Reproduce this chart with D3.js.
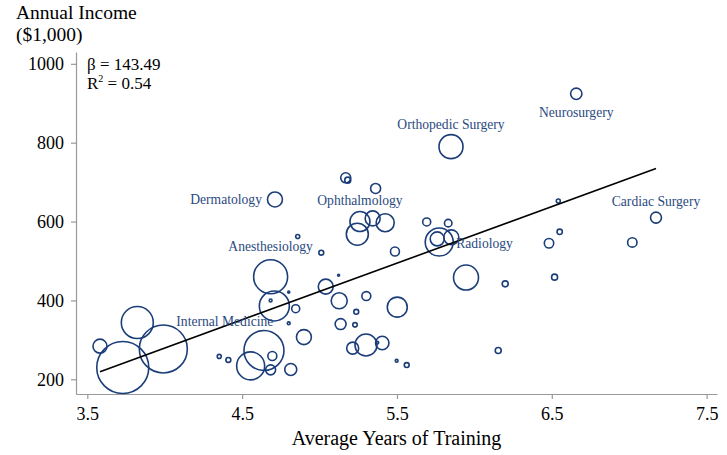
<!DOCTYPE html>
<html>
<head>
<meta charset="utf-8">
<script src="https://cdn.jsdelivr.net/npm/d3@7"></script>
<style>
  body { margin: 0; background: #fff; }
  svg text { font-family: "Liberation Serif", "Times New Roman", serif; }
</style>
</head>
<body>
<div id="chart"></div>
<script>
// one entry per specialty group
const years = [3.582, 3.729, 3.823, 3.991, 4.352, 4.411, 4.641, 4.555, 4.684, 4.708,
  4.695, 4.684, 4.684, 4.801, 4.801, 4.846, 4.899, 4.814, 5.040, 5.123,
  5.169, 5.182, 5.362, 4.712, 5.261, 5.343, 5.424, 5.244, 5.692, 5.831,
  5.773, 5.760, 5.851, 4.859, 5.011, 5.487, 5.946, 6.199, 5.127, 5.302,
  5.502, 5.237, 5.229, 5.136, 5.300, 5.214, 5.405, 5.373, 5.498, 5.563,
  6.154, 6.658, 6.542, 7.173, 6.551, 6.482, 7.020, 6.518, 5.849];
const income = [284, 230, 344, 277, 258, 249, 273, 234, 460, 386,
  259, 224, 400, 421, 342, 379, 307, 225, 435, 464,
  711, 705, 684, 656, 600, 608, 597, 568, 599, 596,
  548, 556, 560, 562, 521, 524, 458, 442, 399, 411,
  383, 371, 338, 340, 287, 279, 292, 293, 247, 236,
  273, 924, 652, 610, 574, 545, 547, 459, 790];
// physicians, thousands (bubble area)
const physicians = [4.9, 67.6, 25.6, 57.6, 0.4, 0.6, 40, 19.6, 28.9, 22.5,
  2.0, 2.5, 0.2, 0.1, 0.2, 1.6, 5.6, 3.6, 5.6, 0.1,
  2.5, 0.9, 2.5, 5.6, 10, 5.6, 8.1, 12.1, 1.6, 1.4,
  19.6, 4.9, 5.6, 0.4, 0.6, 2.0, 15.6, 0.9, 6.4, 2.0,
  10, 0.6, 0.5, 3.0, 12.1, 3.6, 4.5, 0.2, 0.2, 0.6,
  0.9, 3.2, 0.4, 3.0, 0.7, 2.2, 2.2, 0.9, 14.4];
const names = ["", "", "", "Internal Medicine", "", "", "", "", "Anesthesiology", "",
  "", "", "", "", "", "", "", "", "", "",
  "", "", "", "Dermatology", "Ophthalmology", "", "", "", "", "",
  "Radiology", "", "", "", "", "", "", "", "", "",
  "", "", "", "", "", "", "", "", "", "",
  "", "Neurosurgery", "", "Cardiac Surgery", "", "", "", "", "Orthopedic Surgery"];

const xTicks = [3.5, 4.5, 5.5, 6.5, 7.5];
const yTicks = [200, 400, 600, 800, 1000];
const yTitle = ["Annual Income", "($1,000)"];
const beta = 143.49;
const alpha = -294.7;
const r2 = 0.54;

// label offsets from the marker centre: [dx, dy, anchor]
const labelPos = {
  "Internal Medicine": [13, -28, "start"],
  "Anesthesiology": [0, -31, "middle"],
  "Dermatology": [-13, 0, "end"],
  "Ophthalmology": [0, -21, "middle"],
  "Orthopedic Surgery": [0, -22, "middle"],
  "Radiology": [17, 1, "start"],
  "Neurosurgery": [0, 18, "middle"],
  "Cardiac Surgery": [0, -16, "middle"]
};

const width = 727;
const height = 455;
const margin = { top: 52, right: 10, bottom: 61, left: 76 };
const ink = "#1b3d78";
const axisGrey = "#999";

const data = years.map((x, i) => ({ x, y: income[i], w: physicians[i], name: names[i] }));

const svg = d3.select("#chart")
  .append("svg")
  .attr("width", width)
  .attr("height", height);

const xScale = d3.scaleLinear()
  .domain([3.427, 7.567])
  .range([margin.left, width - margin.right]);

const yScale = d3.scaleLinear()
  .domain([162.7, 1030])
  .range([height - margin.bottom, margin.top]);

const rScale = d3.scaleSqrt()
  .domain([0, 67.6])
  .range([0, 26]);

// axes
const xAxis = svg.append("g")
  .attr("transform", `translate(0, ${height - margin.bottom})`)
  .call(d3.axisBottom(xScale).tickValues(xTicks).tickFormat(d3.format(".1f"))
    .tickSizeInner(5).tickSizeOuter(0).tickPadding(8));

const yAxis = svg.append("g")
  .attr("transform", `translate(${margin.left}, 0)`)
  .call(d3.axisLeft(yScale).tickValues(yTicks).tickFormat(d => d)
    .tickSizeInner(5).tickSizeOuter(0).tickPadding(7));

[xAxis, yAxis].forEach(g => {
  g.select(".domain").attr("stroke", axisGrey).attr("stroke-width", 1.2);
  g.selectAll(".tick line").attr("stroke", axisGrey).attr("stroke-width", 1.2);
  g.selectAll(".tick text")
    .attr("fill", "#000")
    .style("font-family", '"Liberation Serif", serif')
    .style("font-size", "18px");
});

// bubbles
svg.append("g")
  .selectAll("circle")
  .data(data)
  .enter()
  .append("circle")
  .attr("cx", d => xScale(d.x))
  .attr("cy", d => yScale(d.y))
  .attr("r", d => rScale(d.w))
  .attr("fill", "none")
  .attr("stroke", ink)
  .attr("stroke-width", 1.6);

// fitted line
const xExt = d3.extent(years);
svg.append("line")
  .attr("x1", xScale(xExt[0]))
  .attr("y1", yScale(alpha + beta * xExt[0]))
  .attr("x2", xScale(xExt[1]))
  .attr("y2", yScale(alpha + beta * xExt[1]))
  .attr("stroke", "#000")
  .attr("stroke-width", 1.6);

// specialty labels
svg.append("g")
  .selectAll("text")
  .data(data.filter(d => d.name))
  .enter()
  .append("text")
  .attr("x", d => xScale(d.x) + labelPos[d.name][0])
  .attr("y", d => yScale(d.y) + labelPos[d.name][1])
  .attr("dy", "0.35em")
  .attr("text-anchor", d => labelPos[d.name][2])
  .attr("fill", "#2b4a80")
  .attr("font-size", "13.6px")
  .text(d => d.name);

// titles
svg.append("text")
  .attr("y", 19)
  .attr("font-size", "19.5px")
  .selectAll("tspan")
  .data(yTitle)
  .enter()
  .append("tspan")
  .attr("x", 16)
  .attr("dy", (d, i) => i ? 22 : 0)
  .text(d => d);

svg.append("text")
  .attr("x", (margin.left + width - margin.right) / 2)
  .attr("y", 445)
  .attr("text-anchor", "middle")
  .attr("font-size", "20px")
  .text("Average Years of Training");

// fit stats
const stats = svg.append("text")
  .attr("y", 70)
  .attr("font-size", "17px");
stats.append("tspan").attr("x", 87).text(`β = ${beta.toFixed(2)}`);
stats.append("tspan").attr("x", 87).attr("dy", 18.5).text("R");
stats.append("tspan").attr("dy", -7).attr("font-size", "10px").text("2");
stats.append("tspan").attr("dy", 7).text(` = ${r2.toFixed(2)}`);
</script>
</body>
</html>
